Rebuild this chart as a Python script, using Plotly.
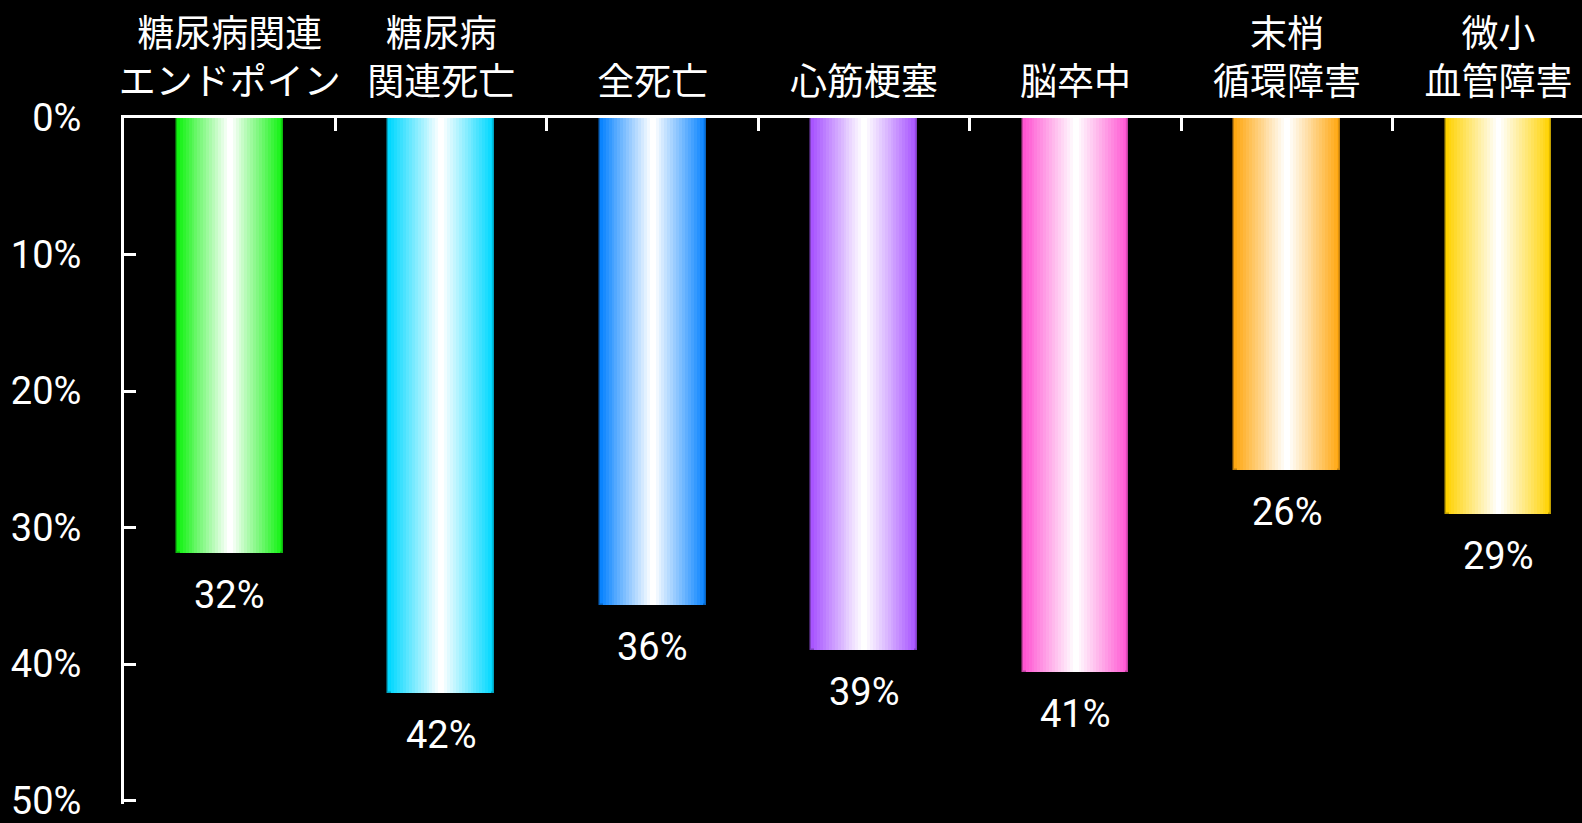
"""Diabetes complication risk reduction chart (hanging gradient bars)."""

import plotly.graph_objects as go

CATEGORIES = [
    "糖尿病関連<br>エンドポイン",
    "糖尿病<br>関連死亡",
    "全死亡",
    "心筋梗塞",
    "脳卒中",
    "末梢<br>循環障害",
    "微小<br>血管障害",
]
VALUES = [31.9, 42.1, 35.7, 39.0, 40.6, 25.8, 29.0]
LABELS = ["32%", "42%", "36%", "39%", "41%", "26%", "29%"]
Y_TICKS = [0, 10, 20, 30, 40, 50]
Y_TICK_TEXT = ["0%", "10%", "20%", "30%", "40%", "50%"]

BAR_COLORS = ["#12F212", "#00D8FF", "#0A84FF", "#A855FF", "#FF55D2", "#FFA812", "#FFD200"]

BG = "#000000"
FG = "#FFFFFF"
NUM_FONT = "Roboto, Liberation Sans, sans-serif"
CJK_FONT = "Noto Sans CJK JP, Noto Sans, sans-serif"

BAR_WIDTH = 0.5
STEPS = 18


def _mix(hex_color: str, t: float, to: int = 255) -> str:
    r, g, b = (int(hex_color[i:i + 2], 16) for i in (1, 3, 5))
    r, g, b = (round(c + (to - c) * t) for c in (r, g, b))
    return f"rgb({r},{g},{b})"


fig = go.Figure()

# fake a horizontal gradient: stack ever narrower, ever whiter bars on top of each other
for k in range(STEPS):
    t = k / (STEPS - 1)
    outline = {"width": 1.5, "color": [_mix(c, 0.25, 0) for c in BAR_COLORS]} if k == 0 else {"width": 0}
    fig.add_trace(
        go.Bar(
            x=CATEGORIES,
            y=VALUES,
            width=BAR_WIDTH * (1 - k / STEPS),
            marker={"color": [_mix(c, t) for c in BAR_COLORS], "line": outline},
            hoverinfo="skip",
            showlegend=False,
        )
    )

for cat, val, lab in zip(CATEGORIES, VALUES, LABELS):
    fig.add_annotation(
        x=cat,
        y=val,
        text=lab,
        showarrow=False,
        yanchor="middle",
        yshift=-42,
        font={"family": NUM_FONT, "size": 38, "color": FG},
    )

fig.update_layout(
    width=1582,
    height=823,
    barmode="overlay",
    bargap=0,
    paper_bgcolor=BG,
    plot_bgcolor=BG,
    margin={"l": 124, "r": 0, "t": 118, "b": 19},
    font={"color": FG},
)
fig.update_xaxes(
    side="top",
    type="category",
    range=[-0.5, 6.395],
    showline=True,
    linecolor=FG,
    linewidth=3,
    ticks="inside",
    ticklen=13,
    tickwidth=3,
    tickcolor=FG,
    tickson="boundaries",
    tickangle=0,
    automargin=False,
    showgrid=False,
    tickfont={"family": CJK_FONT, "size": 37, "color": FG},
    ticklabelstandoff=5,
)
fig.update_yaxes(
    # a hair past 50 so the bottom tick mark is still drawn
    range=[50.25, 0],
    tickmode="array",
    tickvals=Y_TICKS,
    ticktext=Y_TICK_TEXT,
    showline=True,
    linecolor=FG,
    linewidth=3,
    ticks="inside",
    ticklen=12,
    tickwidth=3,
    tickcolor=FG,
    automargin=False,
    ticklabeloverflow="allow",
    showgrid=False,
    zeroline=False,
    tickfont={"family": NUM_FONT, "size": 38, "color": FG},
    ticklabelstandoff=32,
)

# drop the default page margin so the black chart fills the window edge to edge
fig.write_html(
    "out.html",
    config={"displayModeBar": False},
    post_script="document.body.style.margin='0';document.body.style.background='#000';",
)
